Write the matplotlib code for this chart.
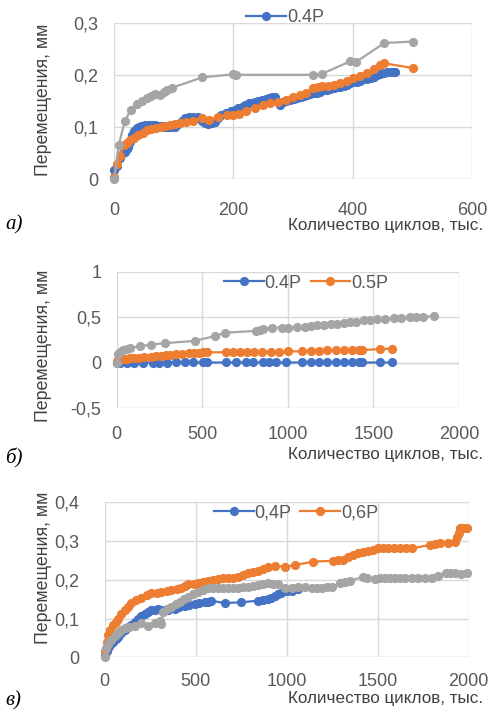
import matplotlib
matplotlib.use('Agg')
from matplotlib import pyplot as plt
from matplotlib.ticker import FuncFormatter

# panel a) -- (cycles, thousands ; displacement, mm)
a_blue = [(0, 0.018), (5, 0.025), (10, 0.04), (15, 0.05), (18, 0.053), (21, 0.058),
          (24, 0.063), (27, 0.072), (30, 0.085), (34, 0.092), (38, 0.098), (42, 0.1),
          (46, 0.102), (52, 0.104), (58, 0.104), (64, 0.104), (69, 0.104), (75, 0.103),
          (80, 0.102), (85, 0.101), (90, 0.1), (96, 0.101), (102, 0.101), (108, 0.106),
          (114, 0.113), (119, 0.117), (126, 0.119), (133, 0.12), (140, 0.119), (147, 0.113),
          (152, 0.108), (158, 0.107), (164, 0.109), (169, 0.111), (175, 0.118), (180, 0.124),
          (188, 0.128), (196, 0.131), (202, 0.134), (208, 0.137), (214, 0.139), (220, 0.142),
          (226, 0.146), (231, 0.146), (236, 0.149), (242, 0.151), (248, 0.153), (254, 0.155),
          (260, 0.157), (265, 0.159), (270, 0.158), (275, 0.148), (278, 0.142), (283, 0.148),
          (289, 0.151), (295, 0.152), (301, 0.154), (307, 0.156), (313, 0.158), (318, 0.16),
          (323, 0.162), (329, 0.164), (335, 0.166), (340, 0.166), (346, 0.168), (351, 0.172),
          (357, 0.172), (362, 0.174), (368, 0.176), (373, 0.177), (379, 0.178), (385, 0.18),
          (390, 0.182), (396, 0.185), (401, 0.187), (407, 0.188), (413, 0.19), (418, 0.192),
          (424, 0.193), (430, 0.195), (435, 0.197), (441, 0.2), (446, 0.203), (452, 0.205),
          (457, 0.206), (463, 0.207), (467, 0.207), (471, 0.207)]
a_orange = [(0, 0.005), (5, 0.03), (10, 0.045), (16, 0.066), (22, 0.07), (27, 0.076),
            (33, 0.08), (41, 0.085), (48, 0.09), (55, 0.094), (62, 0.096), (70, 0.099),
            (78, 0.101), (86, 0.103), (94, 0.105), (102, 0.106), (110, 0.108), (120, 0.11),
            (132, 0.113), (147, 0.117), (160, 0.115), (175, 0.12), (190, 0.124), (200, 0.123),
            (210, 0.126), (222, 0.131), (236, 0.137), (250, 0.142), (262, 0.146), (275, 0.149),
            (288, 0.153), (300, 0.158), (312, 0.162), (322, 0.166), (334, 0.176), (342, 0.177),
            (349, 0.179), (358, 0.18), (368, 0.182), (378, 0.185), (390, 0.19), (401, 0.194),
            (412, 0.198), (424, 0.205), (436, 0.213), (446, 0.22), (453, 0.223), (501, 0.214)]
a_gray = [(0, 0.0), (8, 0.066), (18, 0.112), (28, 0.133), (38, 0.144), (47, 0.151),
          (55, 0.156), (62, 0.16), (68, 0.164), (77, 0.163), (83, 0.168), (88, 0.172),
          (97, 0.176), (148, 0.196), (200, 0.202), (204, 0.201), (334, 0.201), (349, 0.203),
          (396, 0.227), (406, 0.226), (453, 0.262), (501, 0.265)]

# panel б)
b_blue = [(0, 0.0), (20, 0.0), (58, 0.002), (100, 0.002), (155, 0.002), (213, 0.002),
          (250, 0.002), (291, 0.002), (349, 0.003), (397, 0.003), (446, 0.003), (504, 0.003),
          (530, 0.003), (640, 0.003), (698, 0.003), (756, 0.003), (795, 0.003), (853, 0.003),
          (892, 0.003), (930, 0.003), (988, 0.003), (1085, 0.003), (1133, 0.003), (1182, 0.003),
          (1230, 0.003), (1279, 0.003), (1327, 0.003), (1376, 0.003), (1415, 0.003),
          (1435, 0.003), (1541, 0.003), (1609, 0.003)]
b_orange = [(0, 0.02), (20, 0.03), (40, 0.04), (60, 0.045), (80, 0.05), (100, 0.05),
            (130, 0.055), (160, 0.06), (200, 0.065), (230, 0.07), (260, 0.075), (290, 0.08),
            (310, 0.085), (349, 0.1), (380, 0.1), (420, 0.105), (450, 0.11), (480, 0.11),
            (504, 0.115), (530, 0.115), (640, 0.115), (680, 0.12), (720, 0.12), (760, 0.12),
            (800, 0.12), (850, 0.12), (900, 0.12), (950, 0.12), (1000, 0.125), (1085, 0.125),
            (1133, 0.13), (1182, 0.13), (1230, 0.135), (1279, 0.135), (1327, 0.14),
            (1376, 0.14), (1415, 0.14), (1435, 0.14), (1541, 0.15), (1609, 0.155)]
b_gray = [(0, 0.0), (9, 0.1), (20, 0.12), (38, 0.14), (60, 0.155), (78, 0.165), (135, 0.18),
          (203, 0.2), (281, 0.215), (455, 0.24), (577, 0.295), (634, 0.33), (814, 0.35),
          (840, 0.365), (852, 0.375), (910, 0.385), (968, 0.385), (998, 0.385), (1056, 0.39),
          (1100, 0.395), (1134, 0.4), (1170, 0.41), (1211, 0.42), (1250, 0.425), (1289, 0.43),
          (1330, 0.435), (1366, 0.445), (1400, 0.45), (1444, 0.465), (1480, 0.47),
          (1521, 0.48), (1570, 0.485), (1618, 0.49), (1660, 0.495), (1715, 0.5), (1750, 0.5),
          (1792, 0.505), (1855, 0.515)]

# panel в)
c_blue = [(0, 0.006), (10, 0.015), (18, 0.024), (30, 0.032), (46, 0.04), (60, 0.047),
          (73, 0.053), (90, 0.062), (110, 0.07), (128, 0.077), (146, 0.083), (165, 0.092),
          (183, 0.1), (200, 0.107), (220, 0.113), (238, 0.118), (256, 0.121), (275, 0.123),
          (293, 0.125), (310, 0.123), (330, 0.121), (350, 0.122), (385, 0.125), (410, 0.129),
          (440, 0.133), (465, 0.135), (495, 0.137), (520, 0.139), (550, 0.142), (570, 0.144),
          (586, 0.146), (659, 0.14), (751, 0.142), (842, 0.146), (870, 0.148), (897, 0.15),
          (915, 0.153), (934, 0.159), (950, 0.163), (971, 0.167), (1000, 0.17), (1030, 0.172),
          (1064, 0.175)]
c_orange = [(0, 0.015), (10, 0.04), (18, 0.058), (30, 0.07), (46, 0.083), (60, 0.092),
            (73, 0.1), (90, 0.112), (110, 0.122), (128, 0.131), (146, 0.139), (170, 0.147),
            (201, 0.154), (230, 0.16), (256, 0.165), (285, 0.167), (311, 0.169), (340, 0.171),
            (366, 0.174), (395, 0.177), (421, 0.18), (440, 0.185), (458, 0.188), (490, 0.19),
            (513, 0.193), (540, 0.195), (568, 0.197), (595, 0.2), (623, 0.203), (650, 0.204),
            (678, 0.205), (705, 0.205), (733, 0.206), (760, 0.212), (787, 0.217), (815, 0.22),
            (842, 0.223), (870, 0.228), (897, 0.234), (935, 0.236), (991, 0.234), (1046, 0.238),
            (1146, 0.247), (1256, 0.249), (1283, 0.25), (1310, 0.252), (1338, 0.26),
            (1365, 0.264), (1393, 0.268), (1420, 0.271), (1448, 0.274), (1475, 0.278),
            (1503, 0.281), (1530, 0.281), (1558, 0.281), (1590, 0.281), (1622, 0.281),
            (1655, 0.281), (1686, 0.281), (1787, 0.29), (1815, 0.292), (1842, 0.294),
            (1888, 0.296), (1924, 0.298), (1934, 0.31), (1945, 0.322), (1952, 0.333),
            (1970, 0.333), (1989, 0.333)]
c_gray = [(0, 0.0), (9, 0.024), (20, 0.035), (37, 0.045), (55, 0.055), (73, 0.062),
          (90, 0.07), (110, 0.075), (135, 0.078), (165, 0.08), (201, 0.088), (238, 0.082),
          (275, 0.088), (302, 0.094), (310, 0.085), (321, 0.118), (345, 0.125), (366, 0.13),
          (390, 0.137), (412, 0.143), (435, 0.15), (458, 0.156), (485, 0.163), (513, 0.169),
          (540, 0.174), (568, 0.178), (595, 0.179), (623, 0.18), (650, 0.179), (678, 0.178),
          (705, 0.179), (733, 0.18), (760, 0.181), (787, 0.182), (815, 0.184), (842, 0.187),
          (870, 0.189), (897, 0.191), (925, 0.19), (952, 0.189), (991, 0.178), (1030, 0.18),
          (1064, 0.182), (1100, 0.181), (1137, 0.18), (1165, 0.18), (1192, 0.18),
          (1220, 0.181), (1247, 0.182), (1293, 0.191), (1320, 0.194), (1348, 0.197),
          (1421, 0.208), (1440, 0.205), (1485, 0.202), (1512, 0.204), (1540, 0.205),
          (1567, 0.205), (1595, 0.205), (1622, 0.205), (1650, 0.205), (1686, 0.205),
          (1723, 0.205), (1760, 0.205), (1796, 0.205), (1830, 0.21), (1878, 0.217),
          (1900, 0.217), (1924, 0.217), (1960, 0.215), (1988, 0.217)]

BLUE, ORANGE, GRAY = '#4472C4', '#ED7D31', '#A5A5A5'
TXT = '#595959'
FONT = 'Liberation Sans'
XLABEL = 'Количество циклов, тыс.'
YLABEL = 'Перемещения, мм'


def comma(v, _):
    return ('%g' % v).replace('.', ',')


def series(ax, pts, color, label=None):
    xs = [p[0] for p in pts]
    ys = [p[1] for p in pts]
    ax.plot(xs, ys, color=color, lw=1.6, marker='o', ms=5.6, mec=color,
            label=label, clip_on=False, zorder=3)


def setup(ax, xlim, xstep, ylim, ystep, ypad, xpad):
    ax.set_xlim(*xlim)
    ax.set_ylim(*ylim)
    n = int(round((xlim[1] - xlim[0]) / xstep))
    ax.set_xticks([xlim[0] + i * xstep for i in range(n + 1)])
    m = int(round((ylim[1] - ylim[0]) / ystep))
    ax.set_yticks([round(ylim[0] + i * ystep, 3) for i in range(m + 1)])
    ax.yaxis.set_major_formatter(FuncFormatter(comma))
    ax.xaxis.set_major_formatter(FuncFormatter(comma))
    ax.grid(True, color='#D9D9D9', lw=1.0, zorder=0)
    for s in ax.spines.values():
        s.set_visible(False)
    ax.tick_params(length=0, labelsize=13, labelcolor=TXT)
    ax.tick_params(axis='y', pad=ypad)
    ax.tick_params(axis='x', pad=xpad)
    for lab in ax.get_xticklabels() + ax.get_yticklabels():
        lab.set_fontfamily(FONT)
    ax.axhline(0, color='#D9D9D9', lw=1.0, zorder=1)


def legend(ax, cx, cy, ncol):
    ax.legend(loc='center', bbox_to_anchor=(cx / W, 1 - cy / H),
              bbox_transform=fig.transFigure, frameon=False, ncol=ncol,
              handlelength=2.2, handletextpad=0.05, columnspacing=0.5,
              borderaxespad=0, borderpad=0,
              prop={'family': FONT, 'size': 13}, labelcolor=TXT)


fig = plt.figure(figsize=(4.89, 7.12), dpi=100)
W, H = 489.0, 712.0


def box(l, t, r, b):
    return [l / W, 1 - b / H, (r - l) / W, (b - t) / H]


ax1 = fig.add_axes(box(114, 23.3, 472, 179.3))
series(ax1, a_blue, BLUE, '0.4P')
series(ax1, a_orange, ORANGE)
series(ax1, a_gray, GRAY)
setup(ax1, (0, 600), 200, (0, 0.3), 0.1, 11, 16)
legend(ax1, 285, 18, 1)

ax2 = fig.add_axes(box(116.7, 271.7, 459, 408.3))
series(ax2, b_blue, BLUE, '0.4P')
series(ax2, b_orange, ORANGE, '0.5P')
series(ax2, b_gray, GRAY)
setup(ax2, (0, 2000), 500, (-0.5, 1.0), 0.5, 11, 13)
legend(ax2, 306, 283, 2)

ax3 = fig.add_axes(box(104.7, 502.3, 468.7, 657.3))
series(ax3, c_blue, BLUE, '0,4P')
series(ax3, c_orange, ORANGE, '0,6P')
series(ax3, c_gray, GRAY)
setup(ax3, (0, 2000), 500, (0, 0.4), 0.1, 18, 11)
legend(ax3, 296, 513, 2)

for yl, yc, yt, tag in [(226, 100, 225, 'а)'), (455, 346, 458, 'б)'), (698, 568, 701, 'в)')]:
    fig.text(483 / W, 1 - yl / H, XLABEL, ha='right', va='center',
             family=FONT, size=12.3, color='#404040')
    fig.text(44 / W, 1 - yc / H, YLABEL, ha='center', va='center', rotation=90,
             family=FONT, size=12.8, color='#404040')
    fig.text(5 / W, 1 - yt / H, tag, ha='left', va='center',
             family='Liberation Serif', style='italic', size=15, color='black')

fig.savefig('out.png', dpi=100)
